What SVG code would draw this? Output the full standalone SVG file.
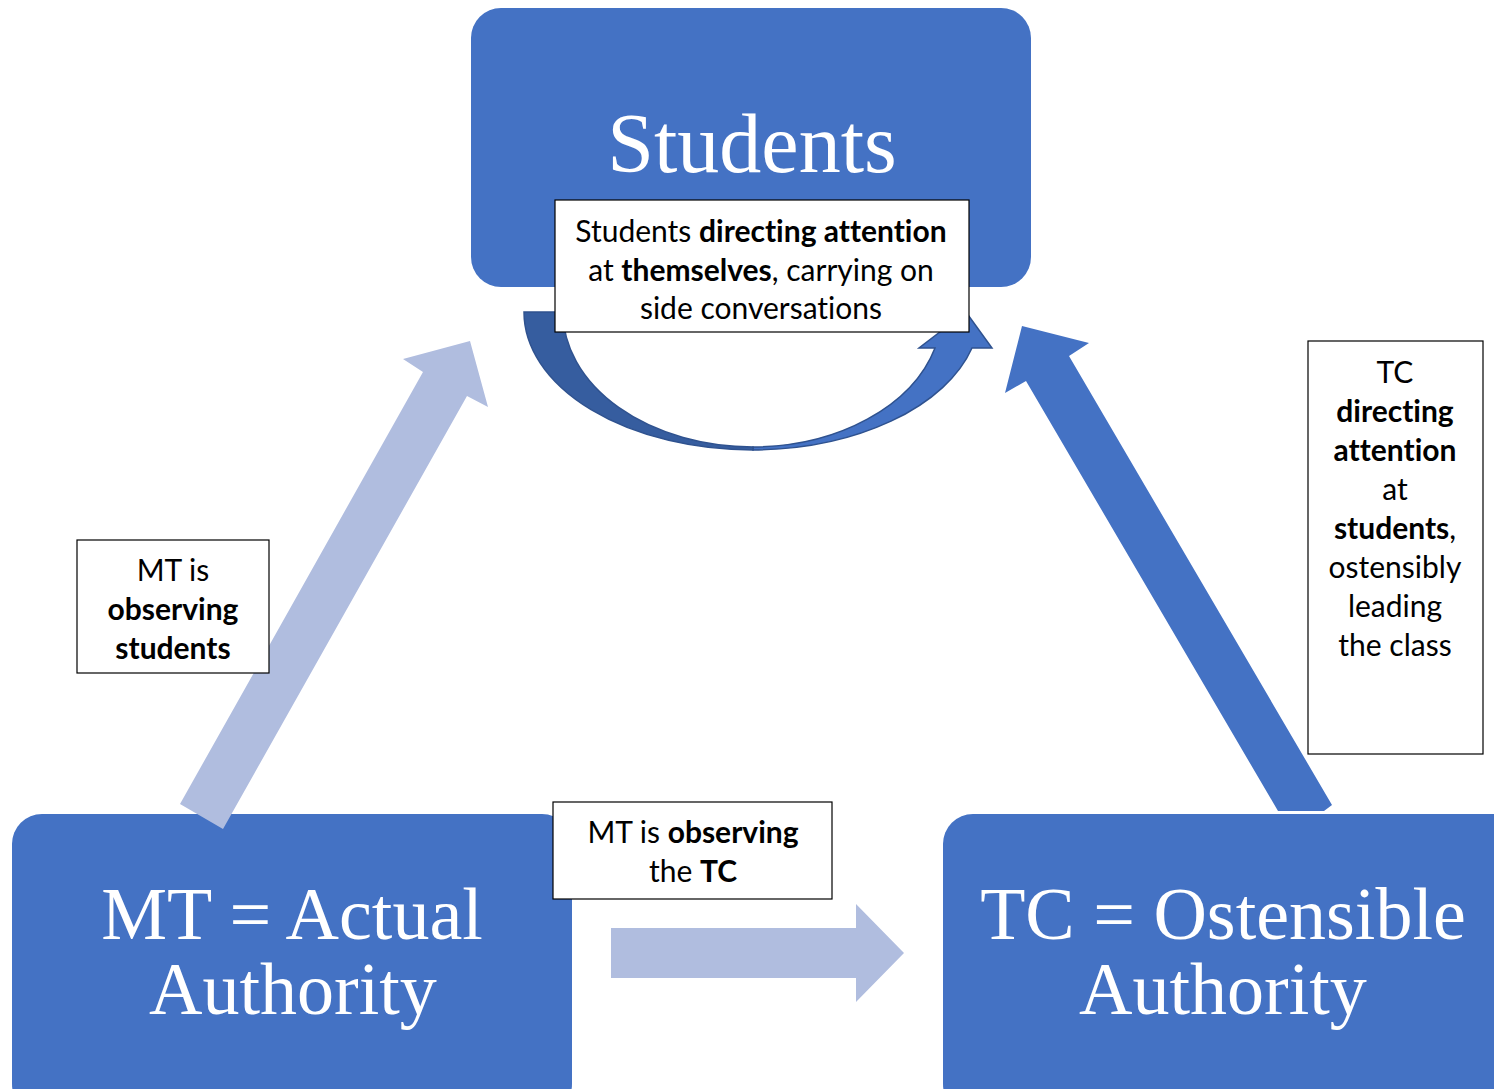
<svg xmlns="http://www.w3.org/2000/svg" width="1494" height="1089" viewBox="0 0 1494 1089">
<style>
.node{fill:#4472C4;}
.big{font-family:"Liberation Serif","Times New Roman",serif;fill:#fff;text-anchor:middle;}
.lbl{fill:#fff;stroke:#000;stroke-width:1.2;}
.t{font-family:Lato,"Liberation Sans",sans-serif;font-size:30px;fill:#000;text-anchor:middle;font-variant-ligatures:none;}
.b{font-weight:bold;}
.light{fill:#B0BDDF;}
.dark{fill:#4472C4;}
</style>
<rect width="1494" height="1089" fill="#fff"/>
<g id="connectors">
  <g id="self-loop">
    <path d="M753,450 A229,138 0 0 0 972,348 L992,348 L966,312 L919,348 L935,348 A190,135 0 0 1 753,447 Z" fill="#4472C4" stroke="#2F528F" stroke-width="1.5"/>
    <path d="M524,312 L563,312 A190,135 0 0 0 753,447 L753,450 A229,138 0 0 1 524,312 Z" fill="#365D9F" stroke="#2F528F" stroke-width="1.5"/>
  </g>
  <polygon id="tc-to-students" class="dark" points="1026,381 1005,393 1022,326 1089,343 1069,356 1332,805 1324,811 1278,811"/>
  <polygon id="mt-to-tc" class="light" points="611,928 856,928 856,904 904,953 856,1002 856,978 611,978"/>
</g>
<g id="students">
  <rect class="node" x="471" y="8" width="560" height="279" rx="30"/>
  <text class="big" x="752" y="172" font-size="84">Students</text>
</g>
<g id="mt">
  <rect class="node" x="12" y="814" width="560" height="300" rx="30"/>
  <text class="big" x="292" y="939" font-size="74">MT = Actual</text>
  <text class="big" x="293" y="1014" font-size="74">Authority</text>
</g>
<g id="tc">
  <rect class="node" x="943" y="814" width="580" height="300" rx="30"/>
  <text class="big" x="1223" y="939" font-size="74">TC = Ostensible</text>
  <text class="big" x="1223" y="1014" font-size="74">Authority</text>
</g>
<polygon id="mt-to-students" class="light" points="180,804 423,372 403,359 470,341 488,407 467,396 223,829"/>
<g id="label-students">
  <rect class="lbl" x="555" y="200" width="414" height="132"/>
  <text class="t" x="761" y="242">Students <tspan class="b">directing attention</tspan></text>
  <text class="t" x="761" y="281">at <tspan class="b">themselves</tspan>, carrying on</text>
  <text class="t" x="761" y="319">side conversations</text>
</g>
<g id="label-mt-students">
  <rect class="lbl" x="77" y="540" width="192" height="133"/>
  <text class="t" x="173" y="581">MT is</text>
  <text class="t b" x="173" y="620">observing</text>
  <text class="t b" x="173" y="659">students</text>
</g>
<g id="label-mt-tc">
  <rect class="lbl" x="553" y="802" width="279" height="97"/>
  <text class="t" x="693" y="843">MT is <tspan class="b">observing</tspan></text>
  <text class="t" x="693" y="882">the <tspan class="b">TC</tspan></text>
</g>
<g id="label-tc-students">
  <rect class="lbl" x="1308" y="341" width="175" height="413"/>
  <text class="t" x="1395" y="383">TC</text>
  <text class="t b" x="1395" y="422">directing</text>
  <text class="t b" x="1395" y="461">attention</text>
  <text class="t" x="1395" y="500">at</text>
  <text class="t" x="1395" y="539"><tspan class="b">students</tspan>,</text>
  <text class="t" x="1395" y="578">ostensibly</text>
  <text class="t" x="1395" y="617">leading</text>
  <text class="t" x="1395" y="656">the class</text>
</g>
</svg>
